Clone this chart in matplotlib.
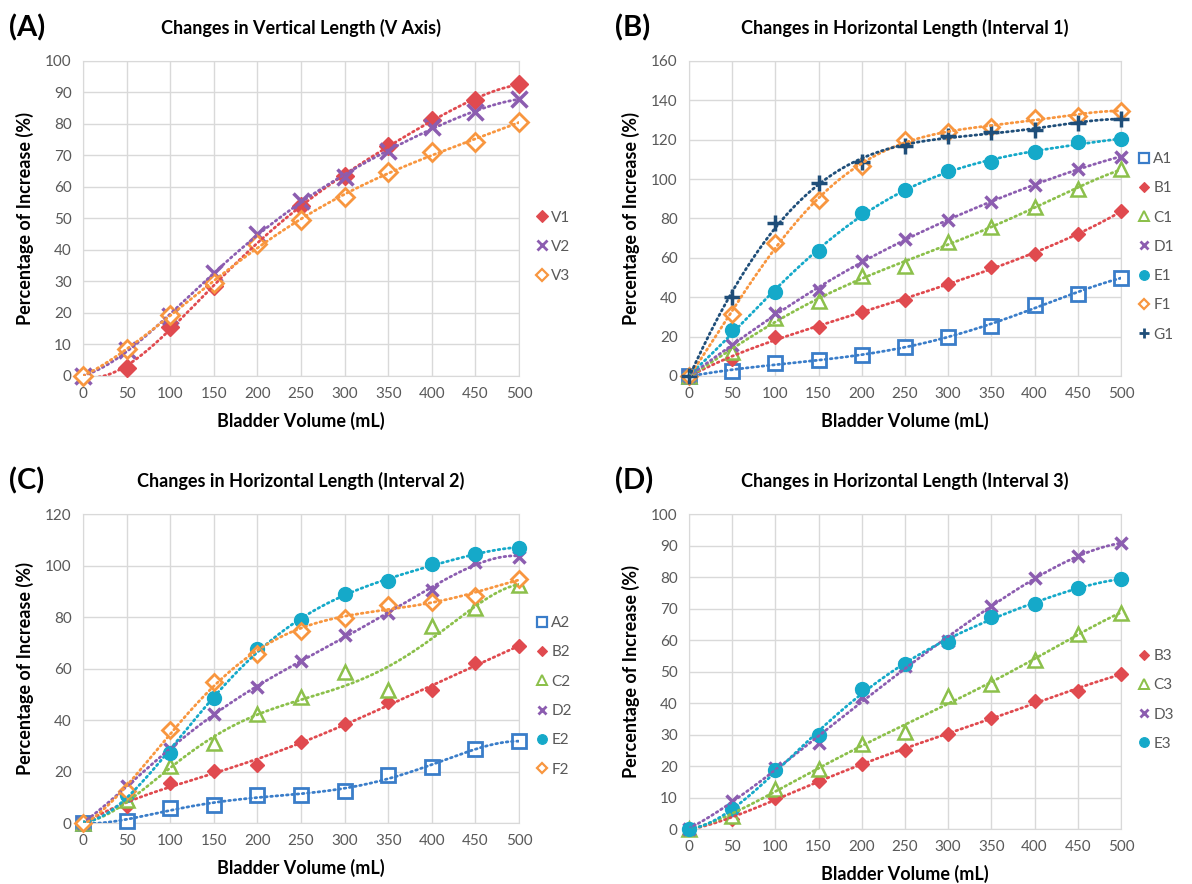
import numpy as np
import matplotlib.pyplot as plt
from matplotlib.lines import Line2D

plt.rcParams['font.family'] = ['Lato', 'DejaVu Sans']

# Bladder volume (mL) shared by all panels
volume = [0, 50, 100, 150, 200, 250, 300, 350, 400, 450, 500]

# (A) vertical length
v1 = [0, 2.5, 15.7, 28.6, 41.9, 54.1, 63.6, 73.1, 81.3, 87.6, 92.6]
v2 = [0, 8.3, 19.0, 32.6, 45.0, 55.6, 63.3, 71.5, 78.9, 83.9, 87.9]
v3 = [0, 8.5, 19.2, 29.6, 41.8, 49.5, 56.8, 64.6, 71.0, 74.4, 80.7]

# (B) horizontal length, interval 1
a1 = [0, 2.5, 6.4, 8.1, 10.5, 14.6, 20.0, 25.6, 36.1, 41.5, 50.0]
b1 = [0, 8.6, 20.0, 25.1, 32.3, 38.6, 46.7, 55.5, 62.0, 72.1, 83.6]
c1 = [0, 12.4, 29.3, 38.3, 50.8, 56.0, 67.9, 75.9, 85.7, 95.2, 105.0]
d1 = [0, 15.7, 31.8, 43.7, 58.4, 69.4, 79.3, 88.4, 97.0, 105.2, 111.4]
e1 = [0, 23.4, 42.5, 63.5, 82.6, 94.5, 104.3, 108.6, 113.8, 118.7, 120.2]
f1 = [0, 31.5, 67.6, 89.2, 106.9, 119.9, 123.8, 126.7, 130.9, 132.3, 134.8]
g1 = [0, 40.3, 77.9, 97.9, 108.6, 116.9, 122.1, 123.8, 125.0, 128.7, 130.6]

# (C) horizontal length, interval 2
a2 = [0, 0.9, 5.8, 6.9, 11.0, 10.8, 12.6, 18.8, 21.8, 28.8, 31.8]
b2 = [0, 6.5, 15.6, 20.1, 22.7, 31.5, 38.6, 46.9, 51.6, 62.0, 68.7]
c2 = [0, 9.1, 22.0, 30.9, 42.2, 48.9, 58.6, 51.5, 76.5, 83.7, 92.5]
d2 = [0, 14.3, 28.8, 42.2, 52.8, 62.9, 72.9, 81.7, 90.5, 101.2, 103.5]
e2 = [0, 11.0, 27.2, 48.6, 67.7, 78.9, 88.8, 94.0, 100.5, 104.4, 107.0]
f2 = [0, 12.3, 36.1, 54.7, 65.8, 74.6, 79.8, 84.7, 86.0, 88.2, 94.9]

# (D) horizontal length, interval 3
b3 = [0, 3.2, 9.8, 15.1, 20.7, 25.2, 30.1, 35.1, 40.8, 43.8, 49.3]
c3 = [0, 4.2, 12.8, 19.0, 27.1, 30.9, 42.1, 46.0, 53.7, 61.9, 68.7]
d3 = [0, 9.0, 19.3, 27.3, 41.9, 51.9, 59.7, 70.9, 79.6, 86.7, 90.7]
e3 = [0, 6.3, 18.6, 29.7, 44.4, 52.4, 59.5, 67.4, 71.5, 76.5, 79.3]

# marker style per location letter: color, marker, filled, size, edge width
styles = {
    'A': ('#3A7DC9', 's', False, 10, 2.0),
    'B': ('#E04A4F', 'D', True, 7.5, 1.0),
    'C': ('#8CC04B', '^', False, 10, 1.8),
    'D': ('#8C5DB0', 'x', True, 9, 2.5),
    'E': ('#15A9C9', 'o', True, 10, 1.0),
    'F': ('#F8963F', 'D', False, 8, 2.0),
    'G': ('#1F4E79', '+', True, 11, 2.5),
    'V1': ('#E04A4F', 'D', True, 9, 1.0),
    'V2': ('#8C5DB0', 'x', True, 11, 2.5),
    'V3': ('#F8963F', 'D', False, 9, 2.0),
}

grey = '#595959'


def draw_panel(rect, series, ymax, ystep, letter, title):
    ax = fig.add_axes(rect)
    handles = []
    xs = np.linspace(0, 500, 300)
    for name, vals in series:
        key = name if name.startswith('V') else name[0]
        color, marker, filled, ms, mew = styles[key]
        face = color if filled else 'white'
        ax.plot(volume, vals, linestyle='none', marker=marker, markersize=ms,
                markeredgewidth=mew, markerfacecolor=face, markeredgecolor=color,
                clip_on=False, zorder=3)
        # polynomial trendline like Excel
        coef = np.polyfit(volume, vals, 5)
        ax.plot(xs, np.polyval(coef, xs), color=color, lw=2,
                linestyle=(0, (0.6, 1.3)), dash_capstyle='round', zorder=4)
        handles.append(Line2D([], [], linestyle='none', marker=marker,
                              markersize=ms * 0.7, markeredgewidth=mew * 0.8,
                              markerfacecolor=face, markeredgecolor=color, label=name))

    ax.set_xlim(0, 500)
    ax.set_ylim(0, ymax)
    ax.set_xticks(volume)
    ax.set_yticks(np.arange(0, ymax + 1, ystep))
    ax.grid(True, color='#D9D9D9', lw=1)
    ax.set_axisbelow(True)
    for s in ax.spines.values():
        s.set_color('#D9D9D9')
    ax.tick_params(length=0, colors=grey, labelsize=11, pad=8)
    ax.set_xlabel('Bladder Volume (mL)', fontsize=13, fontweight='bold', labelpad=8)
    ax.set_ylabel('Percentage of Increase (%)', fontsize=13, fontweight='bold', labelpad=8)

    ax.legend(handles=handles, loc='center left', bbox_to_anchor=(1.025, 0.41),
              frameon=False, fontsize=11, labelcolor=grey, handlelength=0.8,
              handletextpad=0.2, labelspacing=1.0, borderaxespad=0)

    # title and panel letter
    pos = ax.get_position()
    fig.text(pos.x0 + pos.width / 2, pos.y1 + 0.037, title, ha='center',
             va='center', fontsize=13, fontweight='bold')
    fig.text(pos.x0 - 0.062, pos.y1 + 0.037, letter, ha='left', va='center',
             fontsize=21, fontweight='bold')
    return ax


fig = plt.figure(figsize=(11.92, 8.84), dpi=100)

draw_panel([0.0696, 0.5747, 0.3658, 0.3563],
           [('V1', v1), ('V2', v2), ('V3', v3)],
           100, 10, '(A)', 'Changes in Vertical Length (V Axis)')
draw_panel([0.578, 0.5747, 0.3624, 0.3563],
           [('A1', a1), ('B1', b1), ('C1', c1), ('D1', d1), ('E1', e1), ('F1', f1), ('G1', g1)],
           160, 20, '(B)', 'Changes in Horizontal Length (Interval 1)')
draw_panel([0.0696, 0.069, 0.3658, 0.3495],
           [('A2', a2), ('B2', b2), ('C2', c2), ('D2', d2), ('E2', e2), ('F2', f2)],
           120, 20, '(C)', 'Changes in Horizontal Length (Interval 2)')
draw_panel([0.578, 0.0622, 0.3624, 0.3563],
           [('B3', b3), ('C3', c3), ('D3', d3), ('E3', e3)],
           100, 10, '(D)', 'Changes in Horizontal Length (Interval 3)')

plt.savefig('out.png', dpi=100, facecolor='white')
